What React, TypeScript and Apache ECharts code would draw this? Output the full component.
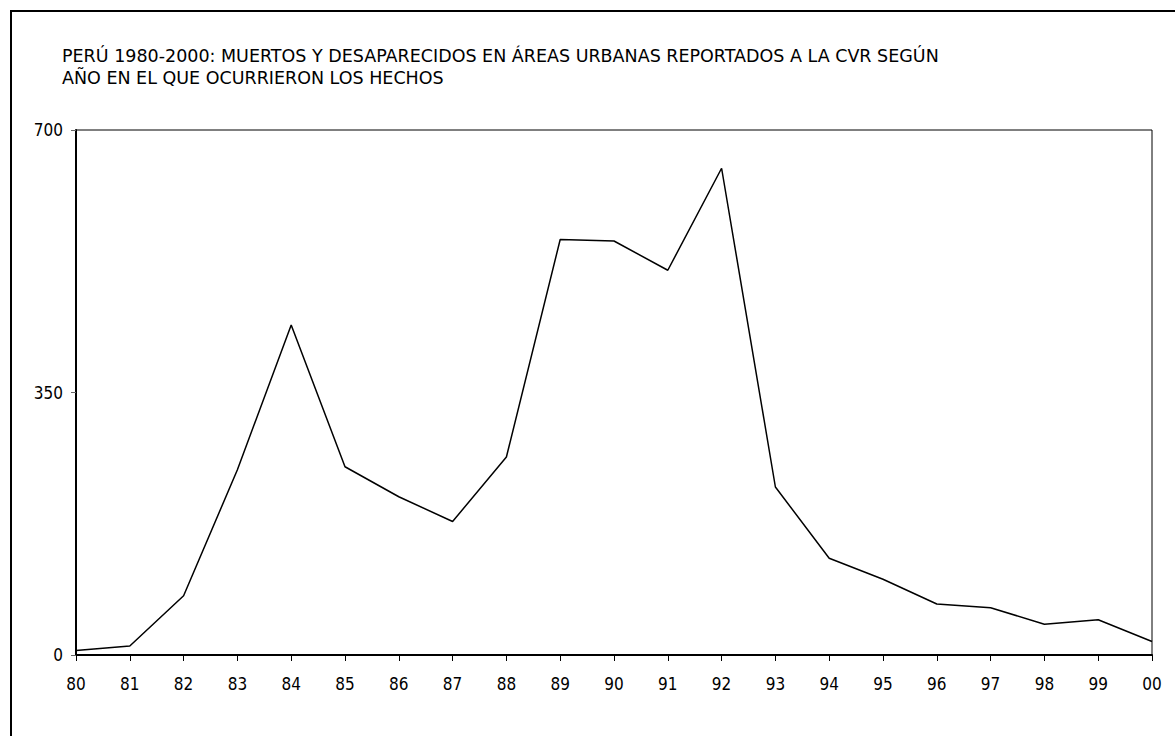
import React, { useEffect, useRef } from "react";
import * as echarts from "echarts";

const TITLE_LINES = [
  "PERÚ 1980-2000: MUERTOS Y DESAPARECIDOS EN ÁREAS URBANAS REPORTADOS A LA CVR SEGÚN",
  "AÑO EN EL QUE OCURRIERON LOS HECHOS",
];
const YEARS = ["80", "81", "82", "83", "84", "85", "86", "87", "88", "89", "90", "91", "92", "93", "94", "95", "96", "97", "98", "99", "00"];
const VICTIMS = [6, 12, 79, 247, 440, 251, 211, 178, 264, 554, 552, 513, 649, 224, 129, 101, 68, 63, 41, 47, 18];
const Y_MIN = 0;
const Y_MAX = 700;
const Y_STEP = 350;

const FONT = "'Liberation Sans Narrow', 'DejaVu Sans Condensed', 'Noto Sans', sans-serif";
const TITLE_FONT = "'DejaVu Sans', 'Noto Sans', sans-serif";

export default function App() {
  const ref = useRef<HTMLDivElement>(null);
  useEffect(() => {
    if (!ref.current) return;
    const chart = echarts.init(ref.current, undefined, { renderer: "svg" });
    chart.setOption({
      animation: false,
      backgroundColor: "#ffffff",
      title: {
        text: TITLE_LINES.join("\n"),
        left: 62,
        top: 45,
        padding: 0,
        textStyle: { fontFamily: TITLE_FONT, fontSize: 17.5, fontWeight: "normal", color: "#000", lineHeight: 22 },
      },
      graphic: [
        {
          type: "rect",
          shape: { x: 11, y: 11, width: 1180, height: 740 },
          style: { fill: "none", stroke: "#000", lineWidth: 2 },
          silent: true,
        },
      ],
      grid: {
        left: 76,
        right: 23,
        top: 130,
        bottom: 81,
        show: true,
        borderColor: "#000",
        borderWidth: 1,
      },
      xAxis: {
        type: "category",
        data: YEARS,
        boundaryGap: false,
        axisLine: { lineStyle: { color: "#000", width: 2 } },
        axisTick: { show: true, length: 6, lineStyle: { color: "#000", width: 1 } },
        axisLabel: { fontFamily: FONT, fontSize: 17, color: "#000", margin: 20 },
        splitLine: { show: false },
      },
      yAxis: {
        type: "value",
        min: Y_MIN,
        max: Y_MAX,
        interval: Y_STEP,
        axisLine: { show: true, lineStyle: { color: "#000", width: 2 } },
        axisTick: { show: true, length: 5, lineStyle: { color: "#666", width: 1 } },
        axisLabel: { fontFamily: FONT, fontSize: 17, color: "#000", margin: 13 },
        splitLine: { show: false },
      },
      series: [
        {
          type: "line",
          data: VICTIMS,
          symbol: "none",
          lineStyle: { color: "#000", width: 1.5 },
        },
      ],
    });
    return () => chart.dispose();
  }, []);
  return (
    <div
      ref={ref}
      style={{ position: "fixed", left: 0, top: 0, width: 1175, height: 736 }}
    />
  );
}
